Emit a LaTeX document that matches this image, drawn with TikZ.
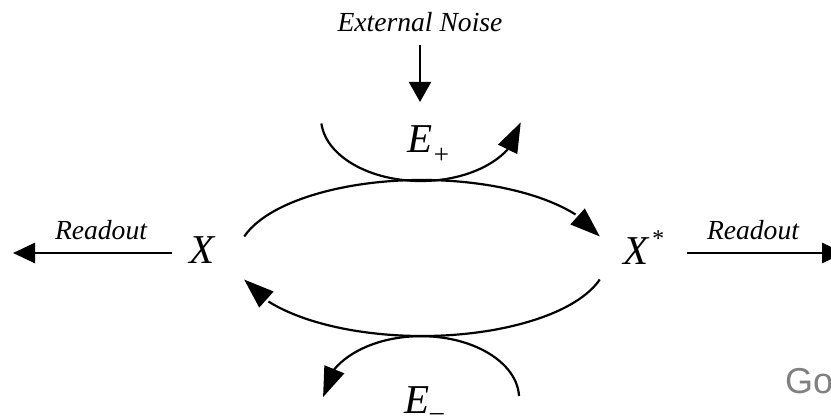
\documentclass[tikz,border=0pt]{standalone}
\usepackage{fontspec}
\setmainfont{Liberation Serif}
\setsansfont{Liberation Sans}
\usetikzlibrary{arrows.meta,bending}

\begin{document}
\begin{tikzpicture}[
  x=1pt, y=-1pt,
  lbl/.style={inner sep=0pt, anchor=base, font=\fontsize{27.6}{30}\selectfont\itshape},
  sym/.style={inner sep=0pt, anchor=base west, font=\fontsize{41}{44}\selectfont\itshape},
  flow/.style={line width=2.6pt, -{Triangle[length=22pt, width=20pt]}},
  cyc/.style={line width=2.2pt, -{Triangle[length=30pt, width=21pt]}},
]
\clip (0,0) rectangle (831,417);

\node[lbl] (noise) at (420,32) {External Noise};
\node[sym] (Ep) at (407,153) {E\raisebox{-11pt}{\fontsize{27}{27}\selectfont +}};
\node[sym] (Em) at (404,413) {E\raisebox{-7pt}{\fontsize{27}{27}\selectfont \kern1pt--}};
\node[sym] (X) at (189,263) {X};
\node[sym] (Xs) at (623,265) {X\kern3pt\raisebox{18pt}{\fontsize{24}{24}\selectfont *}};
\node[lbl] (readL) at (101,240) {Readout};
\node[lbl] (readR) at (753,240) {Readout};
\node[inner sep=0pt, anchor=base west, text=black!50, font=\fontsize{36}{36}\selectfont\sffamily] (go) at (785,393) {Go};

% noise into the forward enzyme
\draw[line width=2.2pt, -{Triangle[length=20pt, width=22pt]}, shorten <=13pt, shorten >=24pt]
  (noise.south) -- (noise.south |- Ep.north);

% readouts
\coordinate (rdL) at (13,253);
\coordinate (rdR) at (844,253);
\draw[flow, shorten <=17pt] (X.west |- rdL) -- (rdL);
\draw[flow, shorten <=24pt] (Xs.east |- rdR) -- (rdR);

% the cycle X <-> X*
\coordinate (uL) at (244.2,236.5);
\coordinate (lR) at (599.8,279.5);
\draw[cyc] (uL) arc[start angle=196, end angle=344, x radius=185, y radius=78];
\draw[cyc] (lR) arc[start angle=16, end angle=164, x radius=185, y radius=78];

% enzyme loops
\coordinate (eL) at (321.4,123.5);
\coordinate (eR) at (519,396);
\draw[cyc] (eL) arc[start angle=175, end angle=4, x radius=100, y radius=63];
\draw[cyc] (eR) arc[start angle=-2, end angle=-179, x radius=98, y radius=62];
\end{tikzpicture}
\end{document}
